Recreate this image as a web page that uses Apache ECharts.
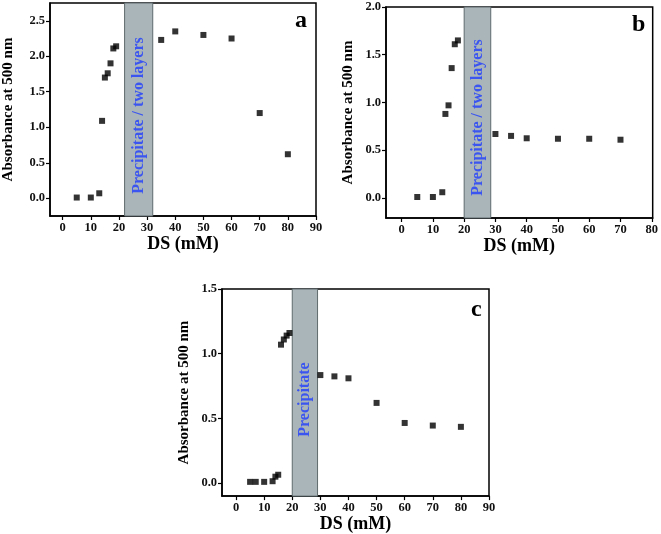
<!DOCTYPE html>
<html><head><meta charset="utf-8">
<script src="https://cdn.jsdelivr.net/npm/echarts@6/dist/echarts.min.js"></script>
<style>html,body{margin:0;padding:0;background:#fff}#c{width:661px;height:534px}</style>
</head><body><div id="c"></div>
<script>
// Panel a
const aX = [5,10,13,14,15,16,17,18,19,35,40,50,60,70,80];
const aY = [0.01,0.01,0.07,1.09,1.70,1.76,1.90,2.11,2.14,2.23,2.35,2.30,2.25,1.20,0.62];
const aBand = [22,32];
const aBandText = 'Precipitate / two layers';
const aXTicks = [0,10,20,30,40,50,60,70,80,90];
const aYTicks = [0,0.5,1.0,1.5,2.0,2.5];
// Panel b
const bX = [5,10,13,14,15,16,17,18,30,35,40,50,60,70];
const bY = [0.01,0.01,0.06,0.88,0.97,1.36,1.61,1.65,0.67,0.65,0.625,0.62,0.62,0.61];
const bBand = [20,28.5];
const bBandText = 'Precipitate / two layers';
const bXTicks = [0,10,20,30,40,50,60,70,80];
const bYTicks = [0,0.5,1.0,1.5,2.0];
// Panel c
const cX = [5,7,10,13,14,15,16,17,18,19,30,35,40,50,60,70,80];
const cY = [0.01,0.01,0.01,0.015,0.05,0.065,1.07,1.11,1.14,1.16,0.835,0.825,0.81,0.62,0.465,0.445,0.435];
const cBand = [20,29];
const cBandText = 'Precipitate';
const cXTicks = [0,10,20,30,40,50,60,70,80,90];
const cYTicks = [0,0.5,1.0,1.5];

const yTitle = 'Absorbance at 500 nm';
const xTitle = 'DS (mM)';
const FONT = '"Liberation Serif","DejaVu Serif",serif';

const panels = [
  {x:aX,y:aY,band:aBand,text:aBandText,xt:aXTicks,yt:aYTicks,xmin:-4.5,xmax:90,ymin:-0.25,ymax:2.75,
   grid:{left:49,top:3,width:267,height:213},name:'a',title:{left:290,top:4},yGap:34,bandOff:-6},
  {x:bX,y:bY,band:bBand,text:bBandText,xt:bXTicks,yt:bYTicks,xmin:-5,xmax:80.3,ymin:-0.21,ymax:2.0,
   grid:{left:386,top:7,width:269,height:211},name:'b',title:{left:627,top:8},yGap:30,bandOff:-5},
  {x:cX,y:cY,band:cBand,text:cBandText,xt:cXTicks,yt:cYTicks,xmin:-5,xmax:90,ymin:-0.1,ymax:1.5,
   grid:{left:222,top:289,width:267,height:210},name:'c',title:{left:466,top:293},yGap:30,bandOff:-7}
];

const option = {grid:[],xAxis:[],yAxis:[],series:[],title:[],animation:false,backgroundColor:'#fff'};
panels.forEach((p,i)=>{
  option.grid.push(Object.assign({show:true,borderColor:'#000',borderWidth:1.5,backgroundColor:'transparent'},p.grid));
  option.title.push(Object.assign({text:p.name,textStyle:{fontFamily:FONT,fontWeight:'bold',fontSize:24,color:'#000'}},p.title));
  option.xAxis.push({type:'value',gridIndex:i,min:p.xmin,max:p.xmax,
    name:xTitle,nameLocation:'middle',nameGap:15,
    nameTextStyle:{fontFamily:FONT,fontWeight:'bold',fontSize:18,color:'#000'},
    axisLine:{show:true,onZero:false,lineStyle:{color:'#000',width:1.5}},
    axisTick:{show:true,inside:false,length:4,customValues:p.xt,lineStyle:{color:'#000',width:1.2}},
    axisLabel:{customValues:p.xt,margin:5,fontFamily:FONT,fontWeight:'bold',fontSize:12.5,color:'#111'},
    splitLine:{show:false}});
  option.yAxis.push({type:'value',gridIndex:i,min:p.ymin,max:p.ymax,
    name:yTitle,nameLocation:'middle',nameGap:p.yGap,
    nameTextStyle:{fontFamily:FONT,fontWeight:'bold',fontSize:15,color:'#000'},
    axisLine:{show:true,onZero:false,lineStyle:{color:'#000',width:1.5}},
    axisTick:{show:true,inside:false,length:4,customValues:p.yt,lineStyle:{color:'#000',width:1.2}},
    axisLabel:{customValues:p.yt,margin:5,fontFamily:FONT,fontWeight:'bold',fontSize:12.5,color:'#111',
      formatter:v=>v.toFixed(1)},
    splitLine:{show:false}});
  option.series.push({type:'scatter',xAxisIndex:i,yAxisIndex:i,symbol:'rect',symbolSize:6,
    itemStyle:{color:'#000'},data:p.x.map((v,k)=>[v,p.y[k]]),z:3,
    markArea:{silent:true,
      itemStyle:{color:'#aab5b9',borderColor:'#5f6b6e',borderWidth:1},
      label:{show:true,position:'inside',rotate:90,offset:[p.bandOff,0],color:'#3b55f0',fontFamily:FONT,fontWeight:'bold',fontSize:16},
      data:[[{xAxis:p.band[0],yAxis:p.ymin,name:p.text},{xAxis:p.band[1],yAxis:p.ymax}]]}});
});
const chart = echarts.init(document.getElementById('c'),null,{renderer:'canvas'});
chart.setOption(option);
</script></body></html>
